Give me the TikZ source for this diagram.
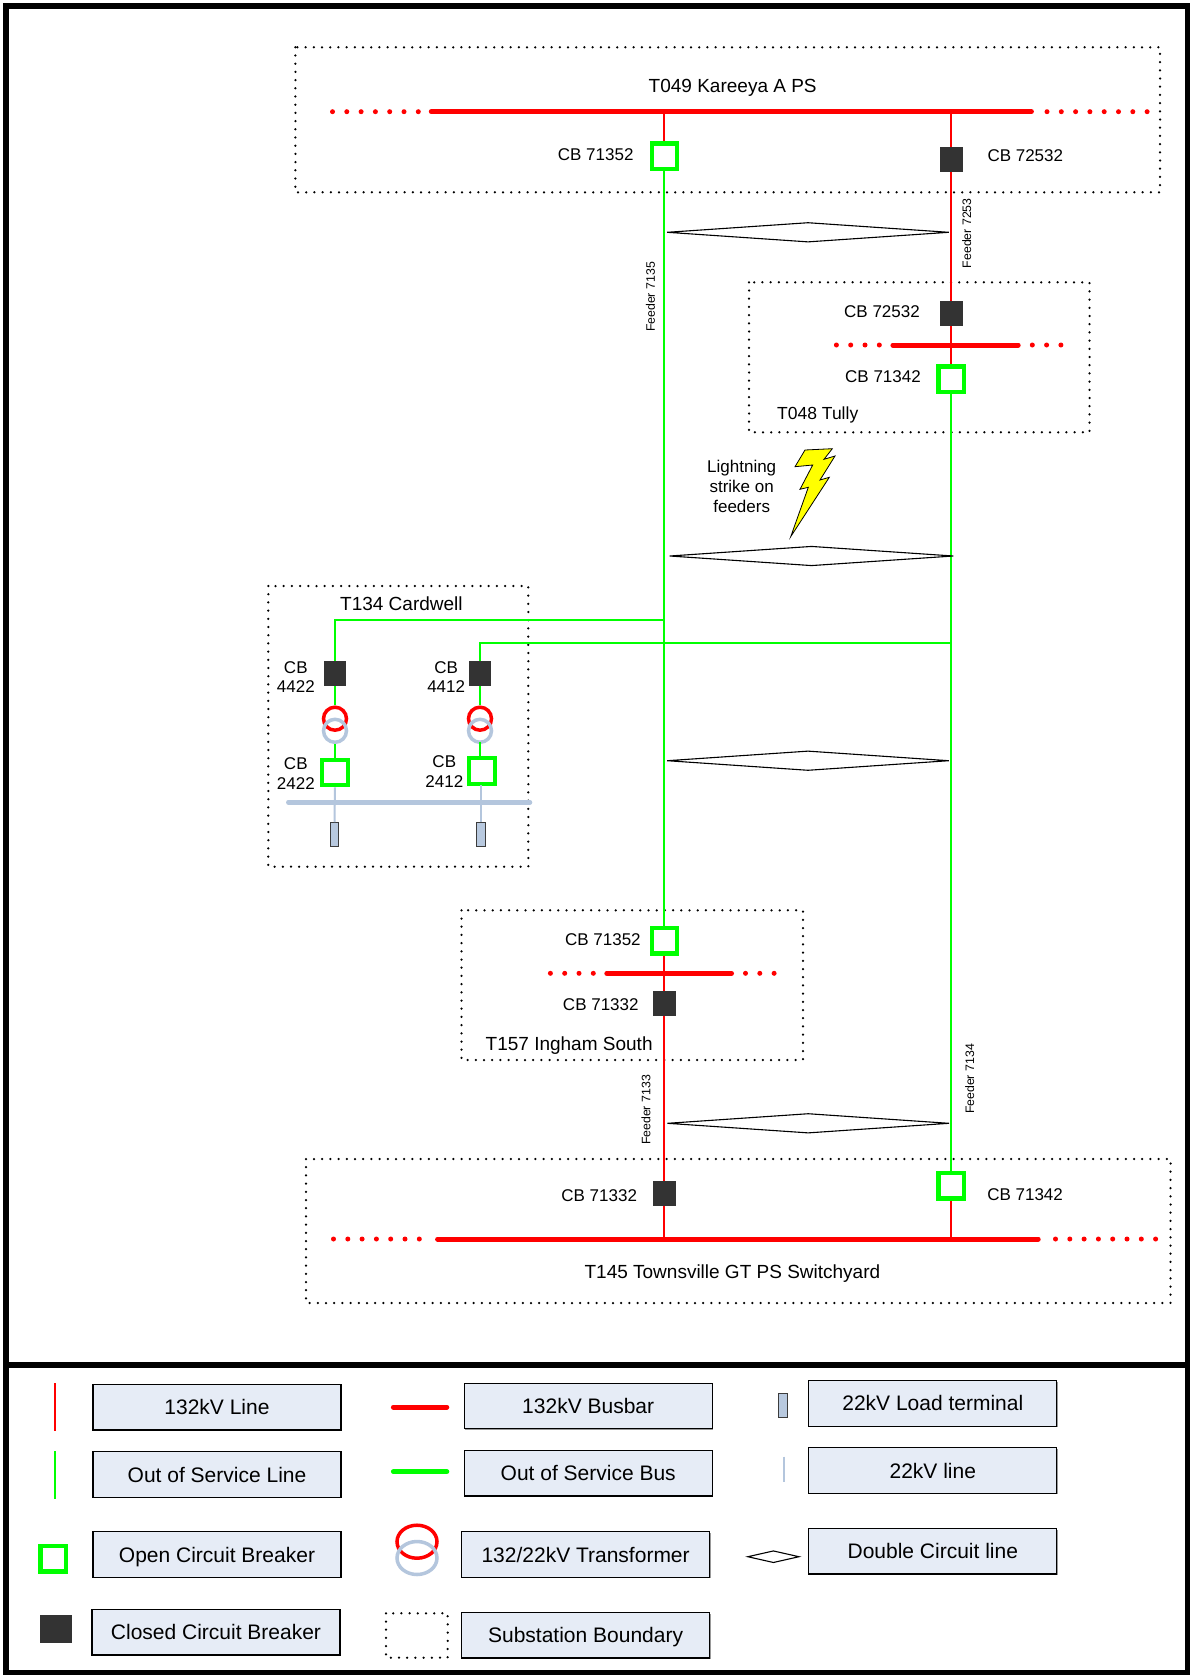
\documentclass[tikz,border=0pt]{standalone}
\usepackage{fontspec}
\setmainfont{Liberation Sans}
\usetikzlibrary{shapes.geometric,shadows}
\definecolor{cRed}{HTML}{FF0000}
\definecolor{cGreen}{HTML}{00FF00}
\definecolor{cDark}{HTML}{333333}
\definecolor{cLight}{HTML}{B4C6DD}
\definecolor{cTerm}{HTML}{B8C9DF}
\definecolor{cTermB}{HTML}{3C3C3C}
\definecolor{cBox}{HTML}{E6ECF6}
\definecolor{cYel}{HTML}{FFFF00}
\begin{document}
\begin{tikzpicture}[x=1pt,y=-1pt,
  bnd/.style={draw=black, line width=2.5pt, line cap=round, dash pattern=on 0pt off 8.2pt},
  busR/.style={draw=cRed, line width=5pt, line cap=round},
  busRdot/.style={draw=cRed, line width=5pt, line cap=round, dash pattern=on 0pt off 14.3pt},
  busG/.style={draw=cGreen, line width=5pt, line cap=round},
  lnR/.style={draw=cRed, line width=2pt},
  lnG/.style={draw=cGreen, line width=2pt},
  lnK/.style={draw=cLight, line width=2pt},
  busK/.style={draw=cLight, line width=4.5pt, line cap=round},
  cbO/.style={draw=cGreen, line width=4.3pt, fill=white, rectangle, minimum width=25.5pt, minimum height=25.5pt, inner sep=0pt},
  cbC/.style={fill=cDark, rectangle, minimum width=22.5pt, minimum height=25pt, inner sep=0pt},
  xfR/.style={draw=cRed, line width=3.5pt, circle, minimum size=23pt, inner sep=0pt},
  xfK/.style={draw=cLight, line width=3.5pt, circle, minimum size=23pt, inner sep=0pt},
  term/.style={draw=cTermB, fill=cTerm, line width=1.2pt, rectangle, minimum width=8.5pt, minimum height=24pt, inner sep=0pt},
  dcl/.style={draw=black, line width=1.1pt, diamond, inner sep=0pt, minimum width=282pt, minimum height=19.6pt},
  lbl/.style={inner sep=0pt, font=\fontsize{17pt}{20pt}\selectfont, text height=12.2pt, text depth=0pt},
  lbl2/.style={inner sep=0pt, font=\fontsize{17pt}{19.6pt}\selectfont, align=center},
  ttl/.style={inner sep=0pt, font=\fontsize{19pt}{22pt}\selectfont, text height=13.6pt, text depth=0pt},
  fdr/.style={inner sep=0pt, font=\fontsize{12.3pt}{14pt}\selectfont, rotate=90},
  legbox/.style={draw=black, line width=1.3pt, fill=cBox, rectangle, minimum width=248pt, minimum height=45.5pt, inner sep=0pt, font=\fontsize{21pt}{24pt}\selectfont, text height=15pt, text depth=0pt, drop shadow={shadow xshift=1.2pt, shadow yshift=-1.2pt, fill=black!40, opacity=1}},
]
\useasboundingbox (0,0) rectangle (1190,1675);
\fill[white] (0,0) rectangle (1190,1675);

% ---------- frame ----------
\draw[line width=5.5pt] (6,6) rectangle (1187.5,1673);
\draw[line width=6.5pt] (6,1365) -- (1187.5,1365);

% ---------- substation boundaries ----------
\draw[bnd] (295.4,47.3) rectangle (1160,192.3);
\draw[bnd] (749,282.3) rectangle (1089.5,432.3);
\draw[bnd] (268.3,586) rectangle (528.3,866.7);
\draw[bnd] (461.5,910.3) rectangle (803,1060);
\draw[bnd] (306,1159) rectangle (1170.5,1303);

% ---------- busbars ----------
% Kareeya
\draw[busRdot] (332.5,111.7) -- (419.5,111.7);
\draw[busR] (431.3,111.7) -- (1031.4,111.7);
\draw[busRdot] (1047,111.7) -- (1148.5,111.7);
\coordinate (kL) at (664.4,111.7);
\coordinate (kR) at (951.3,111.7);
% Tully
\draw[busRdot] (836.4,345) -- (882.5,345);
\draw[busR] (892.9,345) -- (1018.2,345);
\draw[busRdot] (1032.3,345) -- (1063.5,345);
\coordinate (tB) at (951.3,345);
% Ingham
\draw[busRdot] (550.4,973.3) -- (594.8,973.3);
\draw[busR] (606.8,973.3) -- (731.5,973.3);
\draw[busRdot] (745.5,973.3) -- (775,973.3);
\coordinate (iB) at (664.4,973.3);
% Townsville
\draw[busRdot] (333.5,1239) -- (420,1239);
\draw[busR] (437.6,1239) -- (1038.2,1239);
\draw[busRdot] (1055.5,1239) -- (1158,1239);
\coordinate (wL) at (664.4,1239);
\coordinate (wR) at (951.3,1239);

% ---------- circuit breakers ----------
\node[cbO] (kcb1) at (664.4,156.3) {};
\node[cbC] (kcb2) at (951.3,159.2) {};
\node[cbC] (tcb1) at (951.3,313.3) {};
\node[cbO] (tcb2) at (951.3,379.2) {};
\node[cbO] (icb1) at (664.4,940.8) {};
\node[cbC] (icb2) at (664.4,1003.3) {};
\node[cbC] (wcb1) at (664.4,1193.3) {};
\node[cbO] (wcb2) at (951.3,1185.8) {};

% ---------- feeders ----------
\draw[lnR] (kL) -- (kcb1.north);
\draw[lnG] (kcb1.south) -- (icb1.north);
\draw[lnR] (icb1.south) -- (iB) -- (icb2.north);
\draw[lnR] (icb2.south) -- (wcb1.north);
\draw[lnR] (wcb1.south) -- (wL);
\draw[lnR] (kR) -- (kcb2.north);
\draw[lnR] (kcb2.south) -- (tcb1.north);
\draw[lnR] (tcb1.south) -- (tB) -- (tcb2.north);
\draw[lnG] (tcb2.south) -- (wcb2.north);
\draw[lnR] (wcb2.south) -- (wR);

% ---------- double circuit markers ----------
\node[dcl] (dc1) at (808,232.3) {};
\node[dcl, minimum width=284pt] (dc2) at (811.5,556) {};
\node[dcl] (dc3) at (808,760.7) {};
\node[dcl] (dc4) at (808.2,1123.3) {};

% ---------- Cardwell ----------
\coordinate (cj1) at (664.4,620);
\coordinate (cc1) at (335,620);
\coordinate (cj2) at (951.3,643.3);
\coordinate (cc2) at (480,643.3);
\node[cbC] (ccb1) at (335,673.5) {};
\node[cbC] (ccb2) at (480,673.5) {};
\draw[lnG] (cj1) -- (cc1) -- (ccb1.north);
\draw[lnG] (cj2) -- (cc2) -- (ccb2.north);
\node[xfR] (xr1) at (335,718.7) {};
\node[xfK] (xk1) at (335,730.8) {};
\node[xfR] (xr2) at (480,718.7) {};
\node[xfK] (xk2) at (480,730.8) {};
\node[cbO] (ccb3) at (335,772.5) {};
\node[cbO] (ccb4) at (482,771) {};
\draw[lnG] (ccb1.south) -- (xr1.north);
\draw[lnG] (ccb2.south) -- (xr2.north);
\draw[lnG] (xk1.south) -- (ccb3.north);
\draw[lnG] (480,742.3) -- (480,758);
\draw[busK] (288.3,802.3) -- (530,802.3);
\node[term] (lt1) at (334.5,834.8) {};
\node[term] (lt2) at (481,834.8) {};
\draw[lnK] (ccb3.south) -- (lt1.north);
\draw[lnK] (481,785.3) -- (lt2.north);

% ---------- lightning ----------
\filldraw[fill=cYel, draw=black, line width=0.8pt, line join=miter]
  (805,450) -- (832.3,448.7) -- (824,459.3) -- (835,456) -- (820,480) -- (829.3,477.3)
  -- (790.7,536.7) -- (808.3,487.3) -- (800,489.3) -- (812.7,465) -- (795,466.7) -- cycle;
\node[lbl2] (ltxt) at (741.7,486.4) {Lightning\\strike on\\feeders};

% ---------- labels ----------
\node[ttl] (kt) at (732.7,85.8) {T049 Kareeya A PS};
\node[lbl, anchor=east] (kl1) at (633.7,154.5) {CB 71352};
\node[lbl, anchor=west] (kl2) at (987.3,155.5) {CB 72532};
\node[lbl, anchor=east] (tl1) at (920,311.7) {CB 72532};
\node[lbl, anchor=east] (tl2) at (921,376.3) {CB 71342};
\node[ttl, anchor=west, font=\fontsize{17.5pt}{20pt}\selectfont, text height=12.5pt] (tt) at (777,413.3) {T048 Tully};
\node[ttl] (ct) at (401.4,603.3) {T134 Cardwell};
\node[lbl2] (cl1) at (295.8,677.2) {CB\\4422};
\node[lbl2] (cl2) at (446.2,677.2) {CB\\4412};
\node[lbl2] (cl3) at (295.8,773.6) {CB\\2422};
\node[lbl2] (cl4) at (444.3,771.4) {CB\\2412};
\node[lbl, anchor=east] (il1) at (640.9,939.3) {CB 71352};
\node[lbl, anchor=east] (il2) at (638.8,1004) {CB 71332};
\node[ttl, anchor=west] (it) at (485.5,1043.7) {T157 Ingham South};
\node[lbl, anchor=east] (wl1) at (637.2,1195) {CB 71332};
\node[lbl, anchor=west] (wl2) at (987.1,1194.5) {CB 71342};
\node[ttl] (wt) at (732.4,1272) {T145 Townsville GT PS Switchyard};
\node[fdr] (f1) at (650.4,297) {Feeder 7135};
\node[fdr] (f2) at (966.7,233.3) {Feeder 7253};
\node[fdr] (f3) at (646,1110) {Feeder 7133};
\node[fdr] (f4) at (969.8,1079) {Feeder 7134};

% ---------- legend ----------
\draw[lnR] (54.6,1383.3) -- (54.6,1431);
\draw[lnG] (54.6,1451) -- (54.6,1499);
\node[cbO] (lgO) at (53.1,1558.7) {};
\node[cbC, minimum width=32.6pt, minimum height=27.7pt] (lgC) at (55.8,1628.8) {};
\draw[busR] (393.4,1407) -- (446.8,1407);
\draw[busG] (393.4,1471.7) -- (446.8,1471.7);
\node[draw=cRed, line width=3.5pt, ellipse, minimum width=40pt, minimum height=33pt, inner sep=0pt] (lgx1) at (417,1541.7) {};
\node[draw=cLight, line width=3.5pt, ellipse, minimum width=40pt, minimum height=33pt, inner sep=0pt] (lgx2) at (417,1558) {};
\draw[bnd] (386,1613.3) rectangle (447.7,1657.7);
\node[term] (lgT) at (782.9,1405.2) {};
\draw[lnK] (784,1456.7) -- (784,1481.7);
\node[dcl, minimum width=51.6pt, minimum height=12pt] (lgD) at (773.4,1556.7) {};

\node[legbox] (b1) at (217,1407.2) {132kV Line};
\node[legbox] (b2) at (588.2,1406) {132kV Busbar};
\node[legbox] (b3) at (932.8,1403.4) {22kV Load terminal};
\node[legbox] (b4) at (217,1474.5) {Out of Service Line};
\node[legbox] (b5) at (588.2,1473.2) {Out of Service Bus};
\node[legbox] (b6) at (932.8,1470.5) {22kV line};
\node[legbox] (b7) at (217,1554.5) {Open Circuit Breaker};
\node[legbox] (b8) at (585.6,1554.5) {132/22kV Transformer};
\node[legbox] (b9) at (932.8,1551.2) {Double Circuit line};
\node[legbox] (b10) at (216,1632.2) {Closed Circuit Breaker};
\node[legbox] (b11) at (585.6,1635.3) {Substation Boundary};
\end{tikzpicture}
\end{document}
